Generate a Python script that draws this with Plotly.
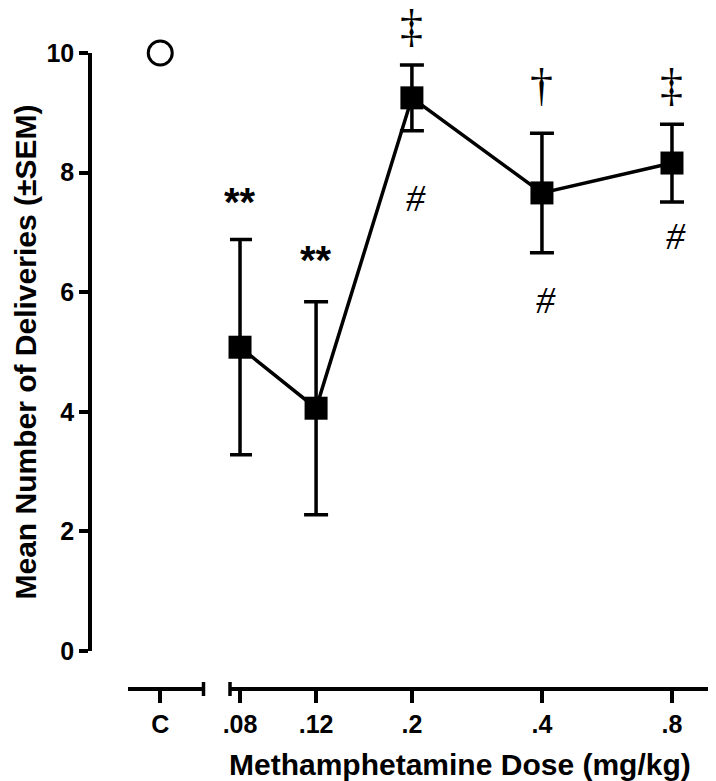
import math
import plotly.graph_objects as go

# control group (separate axis segment)
control_label = ['C']
control_mean = [10.0]

# methamphetamine doses (mg/kg), log-spaced axis
doses = [0.08, 0.12, 0.2, 0.4, 0.8]
dose_labels = ['.08', '.12', '.2', '.4', '.8']
mean_deliveries = [5.08, 4.06, 9.25, 7.66, 8.16]
sem = [1.80, 1.78, 0.55, 1.00, 0.65]

# significance marks
above_marks = ['**', '**', '‡', '†', '‡']
above_y = [7.51, 6.54, 10.45, 9.46, 9.46]
below_doses = [0.2, 0.4, 0.8]
below_marks = ['#', '#', '#']
below_y = [7.58, 5.87, 6.94]

FONT = 'Liberation Sans'
SERIF = 'Liberation Serif'
Y_MAX = 10

# page has an 8px body margin, so the figure is sized to fit the window
W, H = 708, 773
L, T, B = 82, 45, 92
plot_w = W - L
plot_h = H - T - B
y_lo = 38 / plot_h
px_per_unit = plot_h * (1 - y_lo) / Y_MAX

fig = go.Figure()

fig.add_trace(go.Scatter(
    x=control_label, y=control_mean, xaxis='x', yaxis='y',
    mode='markers', cliponaxis=False,
    marker=dict(symbol='circle', size=24, color='white',
                line=dict(color='black', width=3)),
    showlegend=False))

fig.add_trace(go.Scatter(
    x=doses, y=mean_deliveries, xaxis='x2', yaxis='y',
    mode='lines+markers', cliponaxis=False,
    line=dict(color='black', width=3.5),
    marker=dict(symbol='square', size=23, color='black'),
    error_y=dict(type='data', array=sem, visible=True,
                 color='black', thickness=3.5, width=12),
    showlegend=False))

# annotations on a log axis take log10 positions; ones above the range get a shift
for d, m, yv in zip(doses, above_marks, above_y):
    is_star = m == '**'
    fig.add_annotation(x=math.log10(d), y=min(yv, Y_MAX), xref='x2', yref='y',
                       yshift=max(yv - Y_MAX, 0) * px_per_unit,
                       text=m, showarrow=False,
                       font=dict(family=FONT if is_star else SERIF,
                                 size=40 if is_star else 46, color='black',
                                 weight='bold' if is_star else 'normal'))

for d, m, yv in zip(below_doses, below_marks, below_y):
    fig.add_annotation(x=math.log10(d), y=yv, xref='x2', yref='y', text=m, showarrow=False,
                       xshift=4, font=dict(family=SERIF, size=38, color='black',
                                           style='italic'))

tick_font = dict(family=FONT, size=25, color='black', weight='bold')
axis_common = dict(showline=True, linewidth=3.5, linecolor='black', ticks='outside',
                   tickwidth=3.5, tickcolor='black', showgrid=False, zeroline=False,
                   tickfont=tick_font, anchor='free', position=0)

fig.update_layout(
    width=W, height=H,
    margin=dict(l=L, r=0, t=T, b=B),
    plot_bgcolor='white', paper_bgcolor='white',
    xaxis=dict(type='category', range=[-0.43, 0.57],
               domain=[(127.6 - 90) / plot_w, (203.5 - 90) / plot_w],
               ticklen=12, **axis_common),
    xaxis2=dict(type='log', range=[-1.1201, 0.005], domain=[(230 - 90) / plot_w, 1],
                tickvals=doses, ticktext=dose_labels, ticklen=12, **axis_common),
    yaxis=dict(range=[0, Y_MAX], domain=[y_lo, 1], tickvals=[0, 2, 4, 6, 8, 10],
               ticklen=9, **axis_common),
)

# broken-axis end caps
cap = 7 / plot_h
fig.add_shape(type='line', xref='x domain', yref='paper', x0=1, x1=1, y0=-cap, y1=cap,
              line=dict(color='black', width=3.5))
fig.add_shape(type='line', xref='x2 domain', yref='paper', x0=0, x1=0, y0=-cap, y1=cap,
              line=dict(color='black', width=3.5))

fig.add_annotation(text='Mean Number of Deliveries (±SEM)', xref='paper', yref='paper',
                   x=-L / plot_w, y=(y_lo + 1) / 2, textangle=-90, showarrow=False,
                   xanchor='left', yanchor='middle', borderpad=0,
                   font=dict(family=FONT, size=30, color='black', weight='bold'))
fig.add_annotation(text='Methamphetamine Dose (mg/kg)', xref='paper', yref='paper',
                   x=(460 - 90) / plot_w, y=-75 / plot_h, showarrow=False,
                   xanchor='center', yanchor='middle',
                   font=dict(family=FONT, size=30, color='black', weight='bold'))

fig.write_html('out.html')
